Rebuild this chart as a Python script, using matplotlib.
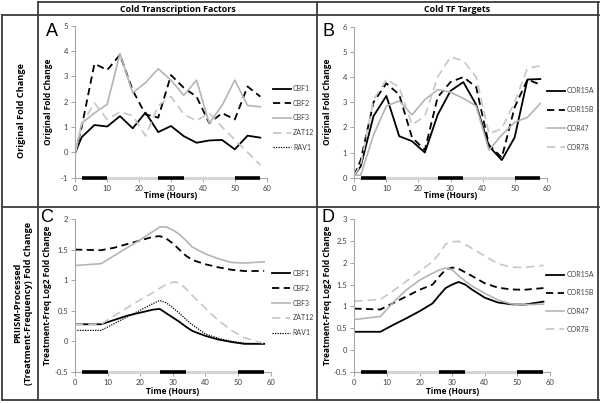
import numpy as np
import matplotlib
matplotlib.use("Agg")
import matplotlib.pyplot as plt
from matplotlib.lines import Line2D

# ----- data -----
t_raw = [0, 2, 6, 10, 14, 18, 22, 26, 30, 34, 38, 42, 46, 50, 54, 58]

# panel A: original fold change, transcription factors
a_cbf1 = [0, 0.6, 1.08, 1.02, 1.43, 0.95, 1.57, 0.8, 1.04, 0.64, 0.38, 0.47, 0.49, 0.12, 0.66, 0.58]
a_cbf2 = [0, 1.0, 3.5, 3.25, 3.85, 2.45, 1.5, 1.37, 3.05, 2.55, 2.2, 1.15, 1.55, 1.3, 2.6, 2.2]
a_cbf3 = [0, 1.15, 1.55, 1.9, 3.9, 2.35, 2.75, 3.3, 2.85, 2.25, 2.85, 1.15, 1.85, 2.85, 1.85, 1.8]
a_zat12 = [0, 1.1, 1.95, 1.3, 1.6, 1.45, 0.65, 1.85, 2.2, 1.5, 1.25, 1.55, 1.0, 0.5, 0.0, -0.5]
a_rav1 = []

# panel B: original fold change, TF targets
b_cor15a = [0.1, 0.45, 2.45, 3.25, 1.65, 1.45, 1.0, 2.5, 3.45, 3.8, 2.9, 1.25, 0.7, 1.6, 3.9, 3.92]
b_cor15b = [0.1, 0.7, 3.0, 3.75, 3.3, 1.6, 1.1, 3.2, 3.8, 4.0, 3.6, 1.3, 0.8, 2.8, 3.9, 3.7]
b_cor47 = [0.1, 0.1, 1.7, 2.85, 3.05, 2.5, 3.1, 3.5, 3.4, 3.15, 2.85, 1.1, 1.7, 2.2, 2.4, 2.95]
b_cor78 = [0.1, 0.5, 3.1, 3.9, 3.6, 2.1, 2.45, 4.0, 4.8, 4.65, 4.0, 1.75, 1.95, 3.0, 4.35, 4.45]

t_proc = [0, 8, 12, 16, 20, 24, 26, 28, 30, 32, 34, 36, 40, 44, 48, 52, 58]

# panel C: PRIISM processed, transcription factors
c_cbf1 = [0.28, 0.28, 0.35, 0.42, 0.47, 0.52, 0.53, 0.46, 0.39, 0.32, 0.24, 0.17, 0.09, 0.03, -0.01, -0.04, -0.04]
c_cbf2 = [1.5, 1.49, 1.53, 1.59, 1.65, 1.71, 1.72, 1.68, 1.6, 1.5, 1.4, 1.33, 1.26, 1.21, 1.17, 1.15, 1.15]
c_cbf3 = [1.24, 1.27, 1.4, 1.53, 1.66, 1.8, 1.87, 1.87, 1.82, 1.75, 1.65, 1.54, 1.43, 1.35, 1.29, 1.28, 1.3]
c_zat12 = [0.28, 0.28, 0.42, 0.55, 0.68, 0.8, 0.87, 0.93, 0.97, 0.96, 0.86, 0.75, 0.54, 0.34, 0.18, 0.06, -0.04]
c_rav1 = [0.18, 0.18, 0.29, 0.4, 0.51, 0.62, 0.67, 0.63, 0.55, 0.46, 0.36, 0.27, 0.12, 0.05, 0.0, -0.03, -0.04]

# panel D: PRIISM processed, TF targets
d_cor15a = [0.42, 0.42, 0.58, 0.73, 0.89, 1.07, 1.25, 1.42, 1.5, 1.56, 1.5, 1.39, 1.2, 1.09, 1.05, 1.04, 1.11]
d_cor15b = [0.95, 0.93, 1.08, 1.23, 1.38, 1.5, 1.68, 1.84, 1.89, 1.86, 1.78, 1.7, 1.53, 1.43, 1.39, 1.38, 1.42]
d_cor47 = [0.7, 0.77, 1.1, 1.38, 1.6, 1.76, 1.83, 1.88, 1.84, 1.7, 1.58, 1.47, 1.3, 1.15, 1.06, 1.04, 1.05]
d_cor78 = [1.12, 1.16, 1.36, 1.58, 1.8, 2.03, 2.2, 2.43, 2.48, 2.49, 2.42, 2.33, 2.15, 1.98, 1.9, 1.89, 1.94]

# dark (night) periods and light periods for the bar under each plot
dark_periods = [(2, 10), (26, 34), (50, 58)]
light_periods = [(10, 26), (34, 50)]

tf_names = ["CBF1", "CBF2", "CBF3", "ZAT12", "RAV1"]
target_names = ["COR15A", "COR15B", "COR47", "COR78"]

# ----- styles -----
GREY = "#b4b4b4"
LGREY = "#c6c6c6"
tf_styles = [
    dict(color="black", lw=1.3, ls="-"),
    dict(color="black", lw=1.3, ls=(0, (4, 2.5))),
    dict(color=GREY, lw=1.2, ls="-"),
    dict(color=LGREY, lw=1.2, ls=(0, (5, 3))),
    dict(color="black", lw=0.9, ls=(0, (1, 1))),
]
target_styles = tf_styles[:4]

W, H = 600, 403
fig = plt.figure(figsize=(W / 100, H / 100), dpi=100)
fig.patch.set_facecolor("white")

TICKFONT = "Lato"
BOLDFONT = "Open Sans"
LABSIZE = 6.0
HEADSIZE = 6.4


def px_axes(x0, x1, ytop, ybot):
    return fig.add_axes([x0 / W, 1 - ybot / H, (x1 - x0) / W, (ybot - ytop) / H])


def style_axes(ax, ylim, yticks, yticklabels, ylabel, xlab_off):
    ax.set_xlim(0, 60)
    ax.set_ylim(*ylim)
    ax.set_xticks(range(0, 61, 10))
    ax.set_yticks(yticks)
    ax.set_yticklabels(yticklabels)
    for s in ["top", "right"]:
        ax.spines[s].set_visible(False)
    for s in ["left", "bottom"]:
        ax.spines[s].set_color("#a6a6a6")
        ax.spines[s].set_linewidth(0.8)
    ax.tick_params(direction="out", length=3, width=0.7, color="#a6a6a6",
                   labelsize=5.5, labelcolor="#404040", pad=2)
    for lab in ax.get_xticklabels() + ax.get_yticklabels():
        lab.set_fontfamily(TICKFONT)
    ax.set_xlabel("Time (Hours)", fontsize=LABSIZE, fontweight="bold", family=BOLDFONT)
    ax.xaxis.set_label_coords(0.5, -xlab_off)
    ax.set_ylabel(ylabel, fontsize=LABSIZE, fontweight="bold", family=BOLDFONT)
    ax.yaxis.set_label_coords(-0.115, 0.5)
    y0 = ylim[0]
    for a, b in light_periods:
        ax.plot([a, b], [y0, y0], color="#d4d4d4", lw=2.2, solid_capstyle="butt",
                clip_on=False, zorder=5)
    for a, b in dark_periods:
        ax.plot([a, b], [y0, y0], color="black", lw=2.6, solid_capstyle="butt",
                clip_on=False, zorder=6)


def add_legend(ax, names, styles, x_px, yc_px, spacing):
    handles = [Line2D([], [], **st) for st in styles]
    leg = ax.legend(handles, names, loc="center left",
                    bbox_to_anchor=(x_px / W, 1 - yc_px / H),
                    bbox_transform=fig.transFigure, frameon=False,
                    borderpad=0, borderaxespad=0, handlelength=2.65,
                    handletextpad=0.3, labelspacing=spacing,
                    prop={"family": TICKFONT, "size": 5})
    for txt in leg.get_texts():
        txt.set_color("#404040")


# panel A
axA = px_axes(75.3, 266.7, 25.7, 177.7)
for vals, st in zip([a_cbf1, a_cbf2, a_cbf3, a_zat12, a_rav1], tf_styles):
    if len(vals):
        axA.plot(t_raw, vals, **st)
style_axes(axA, (-1, 5), range(-1, 6), [str(v) for v in range(-1, 6)],
           "Original Fold Change", 0.085)
add_legend(axA, tf_names, tf_styles, 272.5, 118, 1.09)

# panel B
axB = px_axes(354.3, 546.7, 26.7, 177.7)
for vals, st in zip([b_cor15a, b_cor15b, b_cor47, b_cor78], target_styles):
    axB.plot(t_raw, vals, **st)
style_axes(axB, (0, 6), range(0, 7), [str(v) for v in range(0, 7)],
           "Original Fold Change", 0.085)
add_legend(axB, target_names, target_styles, 546.5, 119, 1.69)

ylab_proc = "Treatment-Freq Log2 Fold Change"
c_ticks = [-0.5, 0, 0.5, 1, 1.5, 2]
d_ticks = [-0.5, 0, 0.5, 1, 1.5, 2, 2.5, 3]

# panel C
axC = px_axes(75, 270.7, 219, 372)
for vals, st in zip([c_cbf1, c_cbf2, c_cbf3, c_zat12, c_rav1], tf_styles):
    axC.plot(t_proc, vals, **st)
style_axes(axC, (-0.5, 2), c_ticks, ["%g" % v for v in c_ticks], ylab_proc, 0.1)
add_legend(axC, tf_names, tf_styles, 272, 303, 1.15)

# panel D
axD = px_axes(354.3, 550, 219, 372)
for vals, st in zip([d_cor15a, d_cor15b, d_cor47, d_cor78], target_styles):
    axD.plot(t_proc, vals, **st)
style_axes(axD, (-0.5, 3), d_ticks, ["%g" % v for v in d_ticks], ylab_proc, 0.1)
add_legend(axD, target_names, target_styles, 546, 302, 1.62)

# panel letters
for letter, (x, y) in zip("ABCD", [(52, 32), (328, 31), (47, 218), (328, 218)]):
    fig.text(x / W, 1 - y / H, letter, fontsize=13, family="Liberation Sans",
             ha="center", va="center")

# table frame
FRAME = "#3c3c3c"


def hline(y, x0, x1, lw=1.3):
    fig.add_artist(Line2D([x0 / W, x1 / W], [1 - y / H, 1 - y / H], color=FRAME, lw=lw))


def vline(x, y0, y1, lw=1.3):
    fig.add_artist(Line2D([x / W, x / W], [1 - y0 / H, 1 - y1 / H], color=FRAME, lw=lw))


hline(2, 38, 598.5)
hline(15, 1.5, 598.5)
hline(207, 1.5, 598.5)
hline(399.5, 1.5, 598.5)
vline(2, 15, 399.5)
vline(38, 1.5, 399.5)
vline(317, 1.5, 399.5)
vline(598, 1.5, 399.5)

fig.text(178 / W, 1 - 9 / H, "Cold Transcription Factors", fontsize=HEADSIZE,
         fontweight="bold", family=BOLDFONT, ha="center", va="center")
fig.text(457 / W, 1 - 9 / H, "Cold TF Targets", fontsize=HEADSIZE,
         fontweight="bold", family=BOLDFONT, ha="center", va="center")
fig.text(22 / W, 1 - 111 / H, "Original Fold Change", fontsize=6.6,
         fontweight="bold", family=BOLDFONT, rotation=90, ha="center", va="center")
fig.text(23 / W, 1 - 303 / H, "PRIISM-Processed\n(Treatment-Frequency) Fold Change",
         fontsize=6.6, fontweight="bold", family=BOLDFONT, rotation=90,
         ha="center", va="center", linespacing=1.15, multialignment="center")

fig.savefig("out.png", dpi=100)
